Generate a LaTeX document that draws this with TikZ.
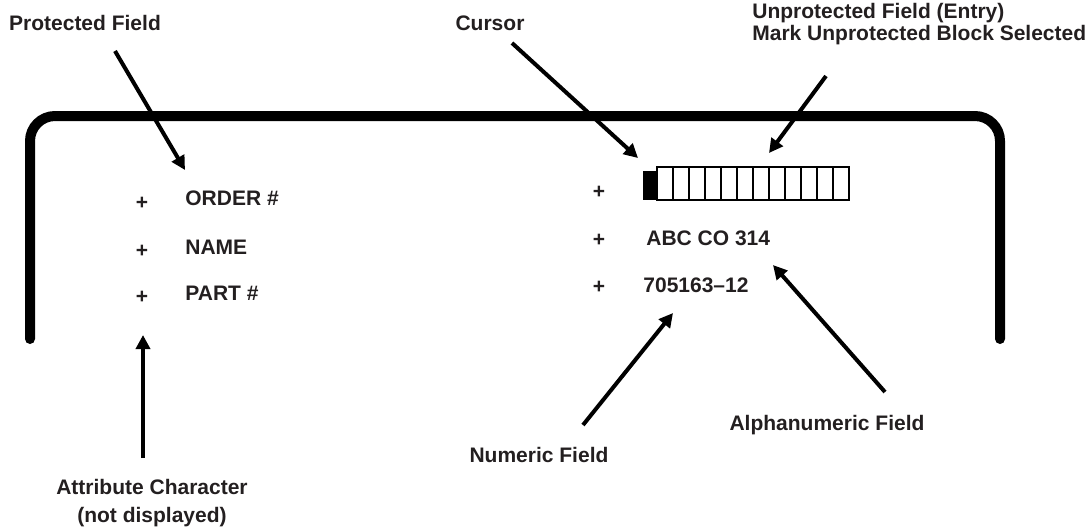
\documentclass[tikz,border=0pt]{standalone}
\usepackage{fontspec}
\setmainfont{Liberation Sans}
\usetikzlibrary{arrows.meta}
\definecolor{ink}{HTML}{231F20}

\begin{document}
\begin{tikzpicture}[x=0.5pt,y=-0.5pt,
  fieldtxt/.style={inner sep=0pt,text=ink,font=\fontsize{10.5}{11}\selectfont\bfseries},
  pointer/.style={-{Triangle[length=7pt,width=7pt]},line width=2pt}]
\useasboundingbox (0,0) rectangle (1092,527);
% screen outline
\draw[line width=5pt,line cap=round,rounded corners=12.5pt]
  (30,339) -- (30,116) -- (1000,116) -- (1000,339);

% left column
\foreach \y/\n in {203/a,251/b,297/c}
  \node[fieldtxt] (lplus\n) at (142,\y) {+};
\node[fieldtxt,anchor=west] (order) at (185,198) {ORDER \#};
\node[fieldtxt,anchor=west] (name) at (185,247) {NAME};
\node[fieldtxt,anchor=west] (part) at (185,293) {PART \#};

% right column
\foreach \y/\n in {192/a,240/b,287/c}
  \node[fieldtxt] (rplus\n) at (599,\y) {+};
\node[fill=black,minimum width=7pt,minimum height=14.5pt,inner sep=0pt,anchor=north west] (cursor) at (643,171) {};
\foreach \i in {0,...,11}
  \draw[line width=0.8pt] (657+16*\i,167) rectangle (673+16*\i,200);
\node[fieldtxt,anchor=west] (alpha) at (646,238) {ABC CO 314};
\node[fieldtxt,anchor=west] (numeric) at (643,285) {705163--12};

% labels
\node[fieldtxt] (protlbl) at (85,23) {Protected Field};
\node[fieldtxt] (curlbl) at (490,23) {Cursor};
\node[fieldtxt,anchor=west,align=left] (unplbl) at (752,24) {Unprotected Field (Entry)\\Mark Unprotected Block Selected};
\node[fieldtxt] (numlbl) at (539,455) {Numeric Field};
\node[fieldtxt] (alphalbl) at (827,425) {Alphanumeric Field};
\node[fieldtxt,align=center,font=\fontsize{10.5}{14}\selectfont\bfseries] (attrlbl) at (152,503) {Attribute Character\\(not displayed)};

% arrows
\coordinate (protA) at (115,51);  \coordinate (protB) at (185,170);
\coordinate (curA) at (512,43);   \coordinate (curB) at (638,158);
\coordinate (unpA) at (826,76);   \coordinate (unpB) at (769,153);
\coordinate (numA) at (583,425);  \coordinate (numB) at (673,313);
\coordinate (alpA) at (885,392);  \coordinate (alpB) at (773,265);
\coordinate (attA) at (143,458);  \coordinate (attB) at (143,335);
\draw[pointer] (protA) -- (protB);
\draw[pointer] (curA) -- (curB);
\draw[pointer] (unpA) -- (unpB);
\draw[pointer] (numA) -- (numB);
\draw[pointer] (alpA) -- (alpB);
\draw[pointer] (attA) -- (attB);
\end{tikzpicture}
\end{document}
